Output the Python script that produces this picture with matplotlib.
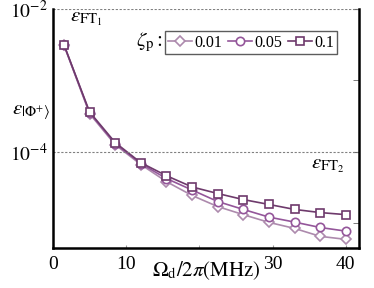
import numpy as np
import matplotlib
matplotlib.use("Agg")
import matplotlib.pyplot as plt

plt.rcParams['font.family'] = ['Liberation Serif', 'DejaVu Serif']
plt.rcParams['mathtext.fontset'] = 'stix'

# drive strength Omega_d / 2pi (MHz)
omega = [1.5, 5, 8.5, 12, 15.5, 19, 22.5, 26, 29.5, 33, 36.5, 40]

# infidelity for each zeta_p
err_001 = [3.1e-3, 3.4e-4, 1.25e-4, 6.6e-5, 3.8e-5, 2.43e-5, 1.7e-5, 1.31e-5, 1.02e-5, 8.4e-6, 6.5e-6, 5.9e-6]
err_005 = [3.14e-3, 3.5e-4, 1.29e-4, 6.8e-5, 4.2e-5, 2.9e-5, 2.0e-5, 1.55e-5, 1.21e-5, 1.03e-5, 8.65e-6, 7.7e-6]
err_01 = [3.14e-3, 3.6e-4, 1.34e-4, 7.0e-5, 4.6e-5, 3.2e-5, 2.59e-5, 2.13e-5, 1.82e-5, 1.55e-5, 1.40e-5, 1.31e-5]

zeta_labels = ['0.01', '0.05', '0.1']
eps_ft1 = 1e-2
eps_ft2 = 1e-4

xticks = [0, 10, 30, 40]

fig = plt.figure(figsize=(3.74, 2.88), dpi=100)
ax = fig.add_axes([0.1417, 0.139, 0.818, 0.830])

series = [(err_001, 'D', '#ad8aad', 5.0), (err_005, 'o', '#94569a', 6.0), (err_01, 's', '#6e3a6c', 5.8)]
for (vals, mk, col, ms), lab in zip(series, zeta_labels):
    ax.plot(omega, vals, marker=mk, color=col, mfc='white', mec=col, ms=ms,
            mew=1.2, lw=1.2, label=lab)

ax.axhline(eps_ft1, color='gray', ls=(0, (2, 1.5)), lw=0.8)
ax.axhline(eps_ft2, color='gray', ls=(0, (2, 1.5)), lw=0.8)

ax.set_yscale('log')
ax.set_ylim(10**-5.35, 1e-2)
ax.set_xlim(0, 41.8)

ax.set_xticks(xticks)
ax.set_xticklabels([str(t) for t in xticks], fontsize=14)
ax.set_xticks([20], minor=True)
ax.set_yticks([1e-2, 1e-4])
ax.set_yticklabels([r'$10^{-2}$', r'$10^{-4}$'], fontsize=14)
ax.yaxis.set_minor_locator(matplotlib.ticker.FixedLocator([1e-3, 1e-5]))
ax.yaxis.set_minor_formatter(matplotlib.ticker.NullFormatter())
ax.tick_params(axis='y', which='both', left=False, right=True, direction='in', length=4, color='#666666')
ax.tick_params(axis='x', which='both', direction='in', length=2, color='#999999', pad=6)

for side in ['left', 'right', 'bottom']:
    ax.spines[side].set_linewidth(1.8)
ax.spines['top'].set_visible(False)

ax.set_xlabel(r'$\Omega_{\mathrm{d}}/2\pi(\mathrm{MHz})$', fontsize=15, labelpad=-10)
fig.text(0.082, 0.61, r'$\varepsilon_{|\Phi^{+}\rangle}$', fontsize=15, ha='center', va='center')
fig.text(0.23, 0.935, r'$\varepsilon_{\mathrm{FT}_1}$', fontsize=15, ha='center', va='center')
fig.text(0.875, 0.425, r'$\varepsilon_{\mathrm{FT}_2}$', fontsize=15, ha='center', va='center')
fig.text(0.40, 0.852, r'$\zeta_{\mathrm{p}}:$', fontsize=15, ha='center', va='center')

leg = ax.legend(loc='center', bbox_to_anchor=(0.672, 0.852), bbox_transform=fig.transFigure,
                ncol=3, fontsize=11.5, frameon=True, fancybox=False, handlelength=1.5,
                handletextpad=0.15, columnspacing=0.35, borderpad=0.2, borderaxespad=0)
leg.get_frame().set_edgecolor('#333333')
leg.get_frame().set_linewidth(1.0)

fig.savefig('out.png', dpi=100)
